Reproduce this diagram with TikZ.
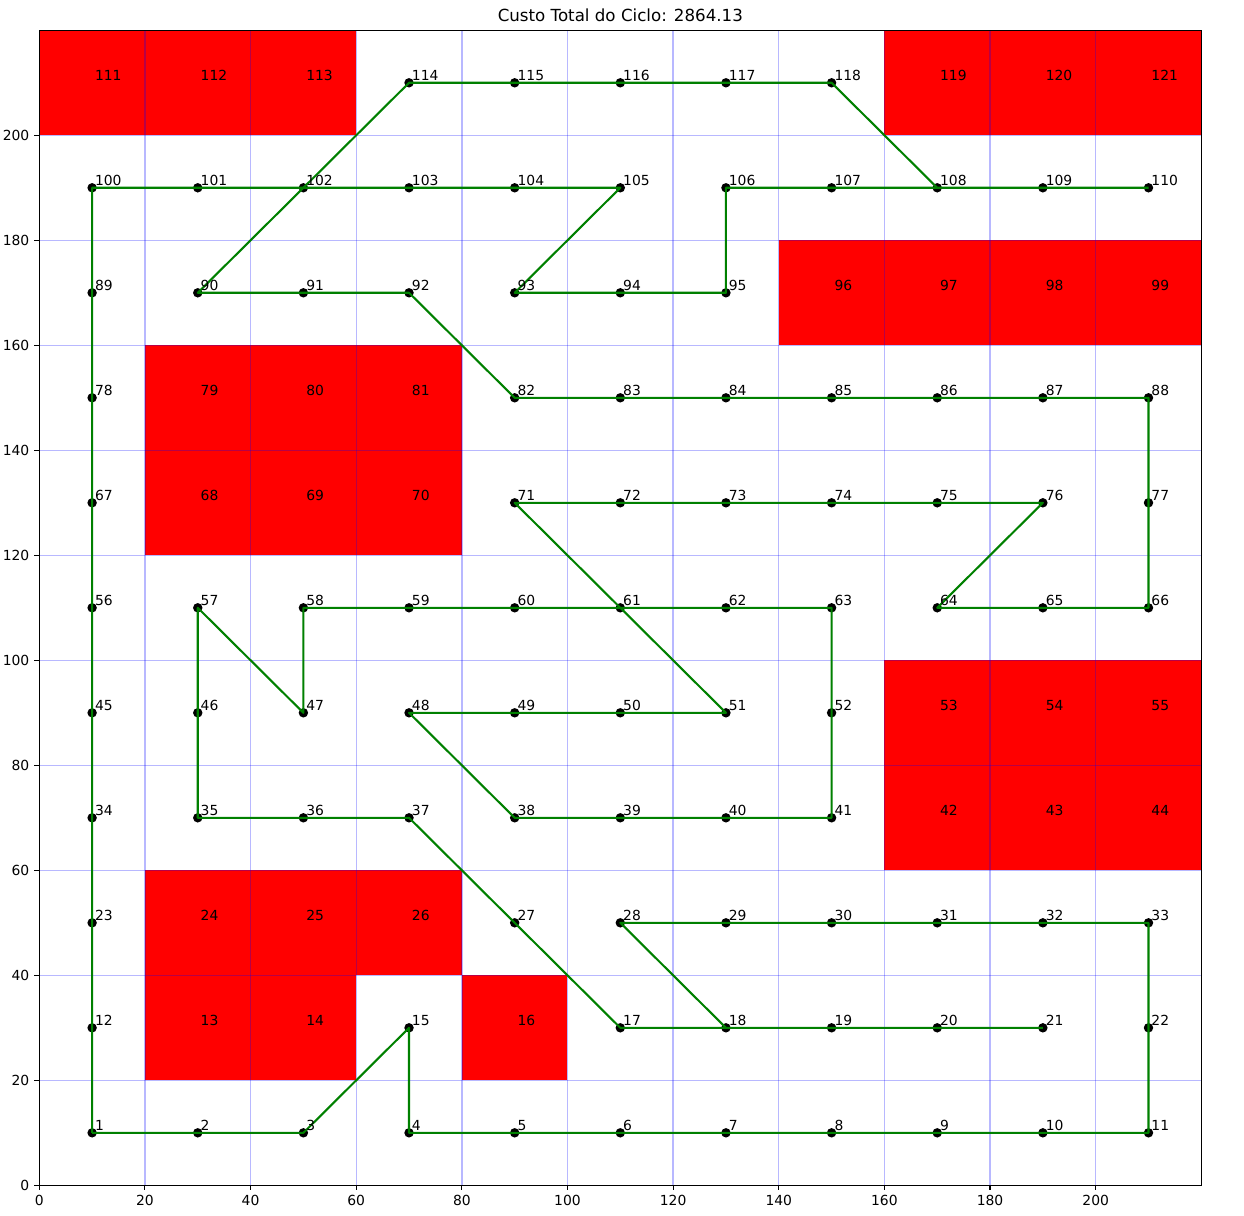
\documentclass[tikz,border=0pt]{standalone}
\usepackage{fontspec}
\setmainfont{DejaVu Sans}
\begin{document}
\begin{tikzpicture}[x=3.8029pt,y=3.78pt,
  gridline/.style={draw=blue,opacity=0.28,line width=1pt},
  route/.style={draw={rgb,255:red,0;green,128;blue,0},line width=1.5pt,line join=round},
  dot/.style={circle,fill=black,draw=none,inner sep=0pt,minimum size=6.8pt},
  lbl/.style={anchor=base west,inner sep=0pt,font=\fontsize{10}{12}\selectfont},
  spine/.style={draw=black,line width=0.8pt},
  ticklbl/.style={inner sep=0pt,font=\fontsize{10}{12}\selectfont},
]
\useasboundingbox (-7.441,-5.657) rectangle (228.08,225.77);
% coordinates of the 121 grid points
\foreach \n in {1,...,121}{
  \pgfmathtruncatemacro{\ii}{mod(\n-1,11)}
  \pgfmathtruncatemacro{\jj}{int((\n-1)/11)}
  \coordinate (c\n) at (10+20*\ii,10+20*\jj);
}
% obstacles
\foreach \n in {13,14,16,24,25,26,42,43,44,53,54,55,68,69,70,79,80,81,96,97,98,99,111,112,113,119,120,121}{
  \expandafter\gdef\csname obs\n\endcsname{}
  \pgfmathtruncatemacro{\ii}{mod(\n-1,11)}
  \pgfmathtruncatemacro{\jj}{int((\n-1)/11)}
  \fill[red] (20*\ii,20*\jj) rectangle ++(20,20);
}
% grid
\foreach \v in {20,40,...,200}{
  \draw[gridline] (\v,0) -- (\v,220);
  \draw[gridline] (0,\v) -- (220,\v);
}
% dots
\foreach \n in {1,...,121}{
  \ifcsname obs\n\endcsname\else
    \node[dot] (p\n) at (c\n) {};
  \fi
}
% route
\draw[route] (c1) -- (c2) -- (c3) -- (c15) -- (c4) -- (c5) -- (c6) -- (c7) -- (c8) -- (c9) -- (c10) -- (c11)
  -- (c22) -- (c33) -- (c32) -- (c31) -- (c30) -- (c29) -- (c28) -- (c18) -- (c19) -- (c20) -- (c21);
\draw[route] (c18) -- (c17) -- (c27) -- (c37) -- (c36) -- (c35) -- (c46) -- (c57) -- (c47) -- (c58)
  -- (c59) -- (c60) -- (c61) -- (c62) -- (c63) -- (c52) -- (c41) -- (c40) -- (c39) -- (c38)
  -- (c48) -- (c49) -- (c50) -- (c51) -- (c61) -- (c71) -- (c72) -- (c73) -- (c74) -- (c75) -- (c76)
  -- (c64) -- (c65) -- (c66) -- (c77) -- (c88) -- (c87) -- (c86) -- (c85) -- (c84) -- (c83) -- (c82)
  -- (c92) -- (c91) -- (c90) -- (c102) -- (c114) -- (c115) -- (c116) -- (c117) -- (c118) -- (c108)
  -- (c109) -- (c110);
\draw[route] (c108) -- (c107) -- (c106) -- (c95) -- (c94) -- (c93) -- (c105) -- (c104) -- (c103)
  -- (c102) -- (c101) -- (c100) -- (c89) -- (c78) -- (c67) -- (c56) -- (c45) -- (c34) -- (c23) -- (c12) -- (c1);
% labels
\foreach \n in {1,...,121}{
  \node[lbl] (l\n) at ([shift={(0.5,0.5)}]c\n) {\n};
}
% axes frame
\draw[spine] (0,0) rectangle (220,220);
\foreach \v in {0,20,...,200}{
  \draw[spine] (\v,0) -- ++(0,-3.5pt);
  \node[ticklbl,anchor=north] (xt\v) at ([yshift=-7pt]\v,0) {\v};
  \draw[spine] (0,\v) -- ++(-3.5pt,0);
  \node[ticklbl,anchor=east] (yt\v) at ([xshift=-7pt]0,\v) {\v};
}
\node[anchor=base,inner sep=0pt,font=\fontsize{12}{14}\selectfont] (title) at ([yshift=6pt]110,220) {Custo Total do Ciclo: 2864.13};
\end{tikzpicture}
\end{document}
